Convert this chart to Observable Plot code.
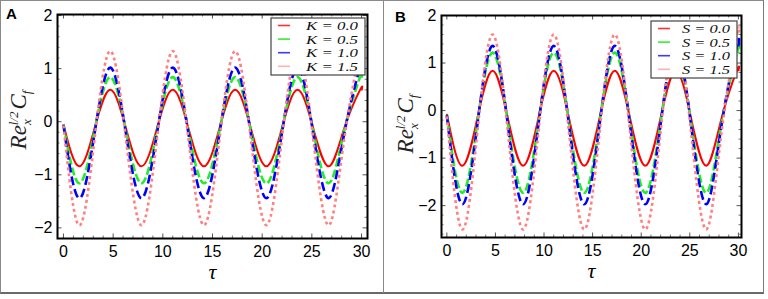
<!DOCTYPE html>
<html>
<head>
<meta charset="utf-8">
<script src="https://cdn.jsdelivr.net/npm/d3@7"></script>
<script src="https://cdn.jsdelivr.net/npm/@observablehq/plot@0.6"></script>
<style>
  body { margin: 0; background: #fff; }
  #wrap { position: relative; width: 768px; height: 299px; overflow: hidden; background: #fff; }
  #border { position: absolute; left: 0; top: 0; width: 764px; height: 294px; box-sizing: border-box;
            border: 1px solid #8a8a8a; border-bottom: 2px solid #6a6a6a; border-right: 1.5px solid #7a7a7a; }
  #divider { position: absolute; left: 383px; top: 0; width: 1px; height: 293px; background: #8a8a8a; }
  .panel { position: absolute; top: 0; width: 384px; height: 293px; }
  .panel svg { display: block; }
</style>
</head>
<body>
<div id="wrap">
  <div id="border"></div>
  <div id="divider"></div>
  <div class="panel" id="panelA" style="left:0px"></div>
  <div class="panel" id="panelB" style="left:384px"></div>
</div>
<script>
// ---- data ----
// sample abscissae: start, then troughs / mid crossings / crests, end
const tau = [0, 1.57, 3.14, 4.71, 6.28, 7.85, 9.42, 11.0, 12.57, 14.14, 15.71, 17.28, 18.85, 20.42, 21.99, 23.56, 25.13, 26.7, 28.27, 29.85, 30.0];

// Panel A (K)
const kLabels = ["K = 0.0", "K = 0.5", "K = 1.0", "K = 1.5"];
const aK00 = [-0.05, -0.84, -0.12, 0.60, -0.12, -0.84, -0.12, 0.60, -0.12, -0.84, -0.12, 0.60, -0.12, -0.84, -0.12, 0.60, -0.12, -0.84, -0.12, 0.60, 0.59];
const aK05 = [-0.05, -1.16, -0.16, 0.84, -0.16, -1.16, -0.16, 0.84, -0.16, -1.16, -0.16, 0.84, -0.16, -1.16, -0.16, 0.84, -0.16, -1.16, -0.16, 0.84, 0.83];
const aK10 = [-0.06, -1.44, -0.21, 1.02, -0.21, -1.44, -0.21, 1.02, -0.21, -1.44, -0.21, 1.02, -0.21, -1.44, -0.21, 1.02, -0.21, -1.44, -0.21, 1.02, 1.01];
const aK15 = [-0.07, -1.95, -0.31, 1.33, -0.31, -1.95, -0.31, 1.33, -0.31, -1.95, -0.31, 1.33, -0.31, -1.95, -0.31, 1.33, -0.31, -1.95, -0.31, 1.33, 1.31];

// Panel B (S)
const sLabels = ["S = 0.0", "S = 0.5", "S = 1.0", "S = 1.5"];
const bS00 = [-0.07, -1.16, -0.16, 0.84, -0.16, -1.16, -0.16, 0.84, -0.16, -1.16, -0.16, 0.84, -0.16, -1.16, -0.16, 0.84, -0.16, -1.16, -0.16, 0.84, 0.83];
const bS05 = [-0.09, -1.73, -0.25, 1.22, -0.25, -1.73, -0.25, 1.22, -0.25, -1.73, -0.25, 1.22, -0.25, -1.73, -0.25, 1.22, -0.25, -1.73, -0.25, 1.22, 1.21];
const bS10 = [-0.10, -1.97, -0.30, 1.36, -0.30, -1.97, -0.30, 1.36, -0.30, -1.97, -0.30, 1.36, -0.30, -1.97, -0.30, 1.36, -0.30, -1.97, -0.30, 1.36, 1.35];
const bS15 = [-0.12, -2.50, -0.45, 1.60, -0.45, -2.50, -0.45, 1.60, -0.45, -2.50, -0.45, 1.60, -0.45, -2.50, -0.45, 1.60, -0.45, -2.50, -0.45, 1.60, 1.58];

// tick values
const xTicks = [0, 5, 10, 15, 20, 25, 30];
const yTicks = [-2, -1, 0, 1, 2];
const xMinor = d3.range(0, 31, 1).filter(d => d % 5 !== 0);

// ---- styles ----
const seriesStyles = [
  {stroke: "#ff0000", strokeWidth: 2, dash: null},
  {stroke: "#22ee22", strokeWidth: 2.6, dash: "8,3"},
  {stroke: "#0000ff", strokeWidth: 2.6, dash: "9,4"},
  {stroke: "#ff8080", strokeWidth: 2.6, dash: "3,3"}
];
const tickFont = "'Liberation Sans', Arial, sans-serif";
const serif = "'Liberation Serif', 'Times New Roman', serif";
const fmt = d => d < 0 ? "\u2212" + (-d) : String(d);

function makePanel(opts) {
  const {series, xDomain, yDomain, margin} = opts;
  const W = 384, H = 293;
  const innerW = W - margin.left - margin.right;
  const innerH = H - margin.top - margin.bottom;
  const yMinor = d3.range(Math.ceil(yDomain[0] * 5), Math.floor(yDomain[1] * 5) + 1)
    .map(d => +(d / 5).toFixed(1)).filter(d => Math.abs(d - Math.round(d)) > 1e-6);

  const marks = [];
  // tick marks on all four sides, inside the frame
  const tMaj = 4.5, tMin = 2.5;
  marks.push(Plot.ruleX(xTicks, {x: d => d, stroke: "#555", insetTop: innerH - tMaj}));
  marks.push(Plot.ruleX(xMinor, {x: d => d, stroke: "#777", insetTop: innerH - tMin}));
  marks.push(Plot.ruleX(xTicks, {x: d => d, stroke: "#555", insetBottom: innerH - tMaj}));
  marks.push(Plot.ruleX(xMinor, {x: d => d, stroke: "#777", insetBottom: innerH - tMin}));
  marks.push(Plot.ruleY(yTicks, {y: d => d, stroke: "#555", insetRight: innerW - tMaj}));
  marks.push(Plot.ruleY(yMinor, {y: d => d, stroke: "#777", insetRight: innerW - tMin}));
  marks.push(Plot.ruleY(yTicks, {y: d => d, stroke: "#555", insetLeft: innerW - tMaj}));
  marks.push(Plot.ruleY(yMinor, {y: d => d, stroke: "#777", insetLeft: innerW - tMin}));

  series.forEach((vals, i) => {
    const s = seriesStyles[i];
    const data = tau.map((t, j) => ({tau: t, v: vals[j]}));
    marks.push(Plot.line(data, {
      x: "tau", y: "v", curve: "natural",
      stroke: s.stroke, strokeWidth: s.strokeWidth,
      strokeDasharray: s.dash, strokeLinecap: "butt"
    }));
  });

  marks.push(Plot.frame({stroke: "#000", strokeWidth: 2}));
  marks.push(Plot.axisX(xTicks, {anchor: "bottom", tickSize: 0, tickPadding: 7, fontSize: 16,
    fontFamily: tickFont, tickFormat: fmt, label: null}));
  marks.push(Plot.axisY(yTicks, {anchor: "left", tickSize: 0, tickPadding: 5, fontSize: 16,
    fontFamily: tickFont, tickFormat: fmt, label: null}));
  marks.push(Plot.text(["\u03C4"], {frameAnchor: "bottom", dy: 40, fontSize: 22,
    fontFamily: serif, fontStyle: "italic", fill: "#000"}));

  return Plot.plot({
    width: W, height: H,
    marginLeft: margin.left, marginRight: margin.right, marginTop: margin.top, marginBottom: margin.bottom,
    x: {domain: xDomain},
    y: {domain: yDomain},
    style: {background: "transparent", overflow: "visible", color: "#000"},
    marks
  });
}

function decorate(svgNode, opts) {
  const svg = d3.select(svgNode);
  const {letter, letterPos, legendBox, labels, yLabelPos} = opts;
  // panel letter
  svg.append("text").attr("x", letterPos[0]).attr("y", letterPos[1])
    .attr("font-family", "'Liberation Sans', Arial, sans-serif").attr("font-weight", "bold")
    .attr("font-size", 15).attr("fill", "#000").text(letter);
  // y label: Re_x^{1/2} C_f
  const g = svg.append("g").attr("transform", `translate(${yLabelPos[0]},${yLabelPos[1]}) rotate(-90)`);
  const t = g.append("text").attr("text-anchor", "middle").attr("font-family", serif)
    .attr("font-style", "italic").attr("font-size", 23).attr("fill", "#222");
  t.append("tspan").text("Re");
  t.append("tspan").attr("font-size", 13).attr("dy", 5).text("x");
  t.append("tspan").attr("font-size", 13).attr("dx", -6).attr("dy", -13).text("l/2");
  t.append("tspan").attr("dy", 8).attr("dx", 2).text("C");
  t.append("tspan").attr("font-size", 13).attr("dy", 5).text("f");
  // legend
  const [lx, ly, lw, lh] = legendBox;
  const lg = svg.append("g");
  lg.append("rect").attr("x", lx).attr("y", ly).attr("width", lw).attr("height", lh)
    .attr("fill", "#fff").attr("stroke", "#444").attr("stroke-width", 1.2);
  const legendColors = ["#ff3030", "#33ee33", "#3a3aff", "#ffb0b0"];
  labels.forEach((lab, i) => {
    const yy = ly + 7.5 + i * 13.6;
    lg.append("line").attr("x1", lx + 7).attr("x2", lx + 19).attr("y1", yy).attr("y2", yy)
      .attr("stroke", legendColors[i]).attr("stroke-width", 1.6);
    lg.append("text").attr("x", lx + lw - 7 - opts.legendTextW).attr("y", yy).attr("dy", "0.34em")
      .attr("text-anchor", "start").attr("font-family", serif).attr("font-style", "italic")
      .attr("font-size", 13).attr("textLength", opts.legendTextW).attr("lengthAdjust", "spacingAndGlyphs")
      .attr("fill", "#111").text(lab);
  });
}

const optsA = {
  series: [aK00, aK05, aK10, aK15], labels: kLabels,
  xDomain: [-0.6, 30.6], yDomain: [-2.2, 2.02],
  margin: {left: 57, right: 17, top: 14, bottom: 55},
  letter: "A", letterPos: [11.5, 18.5],
  legendBox: [271, 18, 94, 57], legendTextW: 52,
  yLabelPos: [26, 120]
};
const optsB = {
  series: [bS00, bS05, bS10, bS15], labels: sLabels,
  xDomain: [-0.55, 30.32], yDomain: [-2.67, 2.0],
  margin: {left: 57, right: 27, top: 15, bottom: 56},
  letter: "B", letterPos: [16.5, 21.5],
  legendBox: [267, 21, 86, 57], legendTextW: 48,
  yLabelPos: [29, 124]
};

const pA = makePanel(optsA);
document.getElementById("panelA").appendChild(pA);
decorate(pA, optsA);
const pB = makePanel(optsB);
document.getElementById("panelB").appendChild(pB);
decorate(pB, optsB);
</script>
</body>
</html>
